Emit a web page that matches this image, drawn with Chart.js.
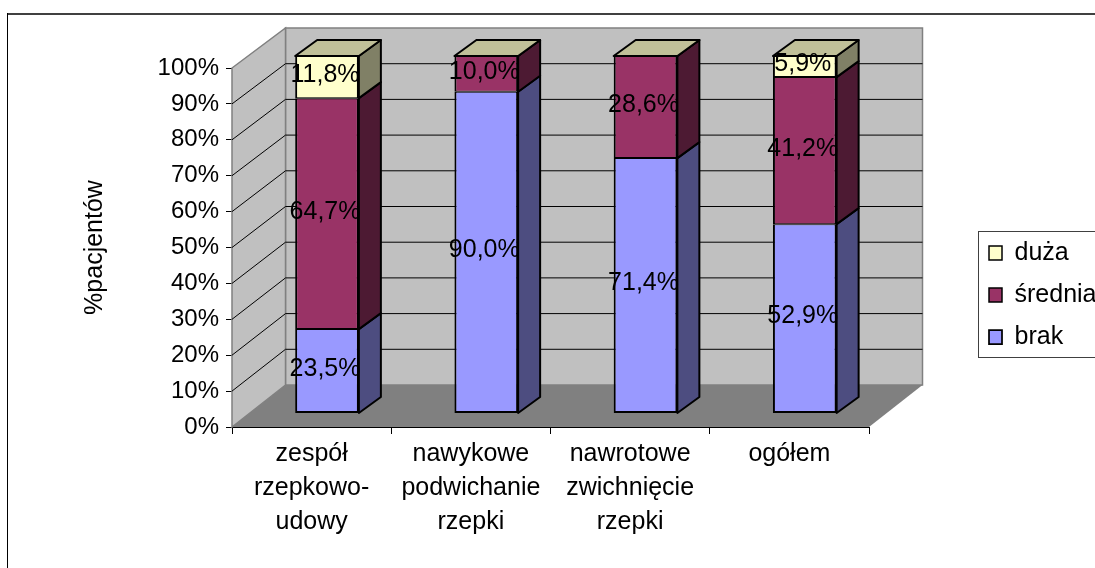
<!DOCTYPE html>
<html>
<head>
<meta charset="utf-8">
<title>%pacjentów</title>
<script src="https://cdn.jsdelivr.net/npm/chart.js@4/dist/chart.umd.min.js"></script>
<style>
  html, body { margin: 0; padding: 0; background: #fff; overflow: hidden; }
  canvas { display: block; }
</style>
</head>
<body>
<canvas id="barChart" width="1095" height="568"></canvas>
<script>
const categories = [
    ['zespół', 'rzepkowo-', 'udowy'],
    ['nawykowe', 'podwichanie', 'rzepki'],
    ['nawrotowe', 'zwichnięcie', 'rzepki'],
    ['ogółem']
];
const brak = [23.5, 90.0, 71.4, 52.9];
const srednia = [64.7, 10.0, 28.6, 41.2];
const duza = [11.8, 0, 0, 5.9];

const frontColors = ['#9999FF', '#993366', '#FFFFCC'];
const sideColors = ['#4D4D80', '#4D1A33', '#808066'];
const topColor = '#C0C099';

// fake 3D depth, all in pixels
const BAR_SHIFT_X = 15.4;   // bars stand this far behind the front axis
const BAR_DEPTH_X = 22;
const BAR_DEPTH_Y = 16;
const WALL_SHIFT_X = 53.5;
const WALL_ABOVE_BARS_Y = 28;
const LEGEND_LIFT = 7.5;

Chart.defaults.font.family = '"Liberation Sans", Arial, sans-serif';
Chart.defaults.font.size = 24;
Chart.defaults.color = '#000';

function poly(ctx, pts, fill, stroke, lw) {
    ctx.beginPath();
    pts.forEach((p, i) => i ? ctx.lineTo(p[0], p[1]) : ctx.moveTo(p[0], p[1]));
    ctx.closePath();
    if (fill) { ctx.fillStyle = fill; ctx.fill(); }
    if (stroke) { ctx.strokeStyle = stroke; ctx.lineWidth = lw; ctx.stroke(); }
}

const box3d = {
    id: 'box3d',
    afterLayout(chart) {
        chart.legend.top -= LEGEND_LIFT;
        chart.legend.bottom -= LEGEND_LIFT;
    },
    beforeDatasetsDraw(chart) {
        const { ctx, chartArea: a, scales } = chart;
        const backY = v => scales.y2.getPixelForValue(v) - WALL_ABOVE_BARS_Y;
        const bx0 = a.left + WALL_SHIFT_X, bx1 = a.right + WALL_SHIFT_X;

        // outer frame of the original picture
        ctx.save();
        ctx.fillStyle = '#404040';
        ctx.fillRect(7, 13, chart.width - 7, 2);
        ctx.fillStyle = '#000';
        ctx.fillRect(7, 13, 1, chart.height - 13);

        // walls and floor
        poly(ctx, [[bx0, backY(100)], [bx1, backY(100)], [bx1, backY(0)], [bx0, backY(0)]], '#C0C0C0', '#808080', 1.5);
        poly(ctx, [[a.left, a.top], [bx0, backY(100)], [bx0, backY(0)], [a.left, a.bottom]], '#C0C0C0', '#808080', 1.5);
        poly(ctx, [[a.left, a.bottom], [bx0, backY(0)], [bx1, backY(0)], [a.right, a.bottom]], '#808080');

        // gridlines bend round the corner
        ctx.strokeStyle = '#000';
        ctx.lineWidth = 1;
        scales.y.ticks.forEach(t => {
            if (t.value === 0 || t.value === 100) return;
            ctx.beginPath();
            ctx.moveTo(a.left, scales.y.getPixelForValue(t.value));
            ctx.lineTo(bx0, backY(t.value));
            ctx.lineTo(bx1, backY(t.value));
            ctx.stroke();
        });
        ctx.restore();

        // bars are drawn shifted back, restored in afterDatasetsDraw
        ctx.save();
        ctx.translate(BAR_SHIFT_X, 0);
    },
    afterDatasetsDraw(chart) {
        const { ctx, data } = chart;
        ctx.lineJoin = 'round';
        data.datasets.forEach((ds, d) => {
            chart.getDatasetMeta(d).data.forEach(bar => {
                const r = bar.x + bar.width / 2, l = bar.x - bar.width / 2;
                poly(ctx, [[r, bar.y], [r + BAR_DEPTH_X, bar.y - BAR_DEPTH_Y],
                    [r + BAR_DEPTH_X, bar.base - BAR_DEPTH_Y], [r, bar.base]], sideColors[d], '#000', 2);
                if (d === data.datasets.length - 1) {
                    poly(ctx, [[l, bar.y], [l + BAR_DEPTH_X, bar.y - BAR_DEPTH_Y],
                        [r + BAR_DEPTH_X, bar.y - BAR_DEPTH_Y], [r, bar.y]], topColor, '#000', 2);
                }
            });
        });

        // data labels
        ctx.fillStyle = '#000';
        ctx.font = '25px "Liberation Sans", Arial, sans-serif';
        ctx.textAlign = 'center';
        ctx.textBaseline = 'middle';
        data.datasets.forEach((ds, d) => {
            chart.getDatasetMeta(d).data.forEach((bar, i) => {
                if (!ds.data[i]) return;
                const txt = ds.data[i].toFixed(1).replace('.', ',') + '%';
                ctx.fillText(txt, bar.x - 2, (bar.y + bar.base) / 2 - 2);
            });
        });
        ctx.restore();
    },
    afterDraw(chart) {
        const { ctx } = chart;
        ctx.save();
        ctx.strokeStyle = '#404040';
        ctx.lineWidth = 1;
        ctx.strokeRect(978.5, 231.5, chart.width, 126);
        ctx.restore();
    }
};

const barCtx = document.getElementById('barChart').getContext('2d');
new Chart(barCtx, {
    type: 'bar',
    data: {
        labels: categories,
        datasets: [
            { label: 'brak', data: brak, backgroundColor: frontColors[0] },
            { label: 'średnia', data: srednia, backgroundColor: frontColors[1] },
            { label: 'duża', data: duza, backgroundColor: frontColors[2] }
        ].map((ds, d) => ({
            ...ds,
            yAxisID: 'y2',
            borderColor: '#000',
            borderWidth: { top: 1, bottom: d === 0 ? 2 : 1, left: 2, right: 2 },
            borderSkipped: false,
            clip: false,
            barPercentage: 0.4,
            categoryPercentage: 1
        }))
    },
    options: {
        responsive: false,
        animation: false,
        layout: { padding: { left: 80, top: 68, right: -11.5, bottom: 31 } },
        plugins: {
            legend: {
                display: true,
                position: 'right',
                reverse: true,
                labels: { boxWidth: 13, boxHeight: 14, padding: 17, color: '#000', font: { size: 25 } }
            },
            tooltip: { enabled: false }
        },
        scales: {
            x: {
                stacked: true,
                grid: {
                    color: c => c.index === categories.length ? '#808080' : '#000',
                    drawOnChartArea: false,
                    tickLength: 7
                },
                border: { color: '#000' },
                ticks: {
                    color: '#000', padding: 3, maxRotation: 0, minRotation: 0, autoSkip: false,
                    font: { size: 25, lineHeight: 34 / 25 }
                },
                afterFit(axis) { axis.height = 110; }
            },
            y: {
                position: 'left',
                min: 0,
                max: 100,
                grid: { color: '#000', drawOnChartArea: false, tickLength: 6 },
                border: { color: '#000' },
                ticks: {
                    stepSize: 10,
                    padding: 7,
                    color: '#000',
                    callback: v => v + '%'
                },
                title: {
                    display: true,
                    text: '%pacjentów',
                    color: '#000',
                    padding: 0,
                    font: { size: 25, lineHeight: 1.2 }
                },
                afterFit(axis) { axis.width = 152; }
            },
            // the plane the bars stand on, 14px up from the front axis
            y2: {
                axis: 'y',
                position: 'right',
                stacked: true,
                min: -3.92,
                max: 96.64,
                grid: { display: false },
                border: { display: false },
                ticks: { display: false },
                afterFit(axis) { axis.width = 103; }
            }
        }
    },
    plugins: [box3d]
});
</script>
</body>
</html>
